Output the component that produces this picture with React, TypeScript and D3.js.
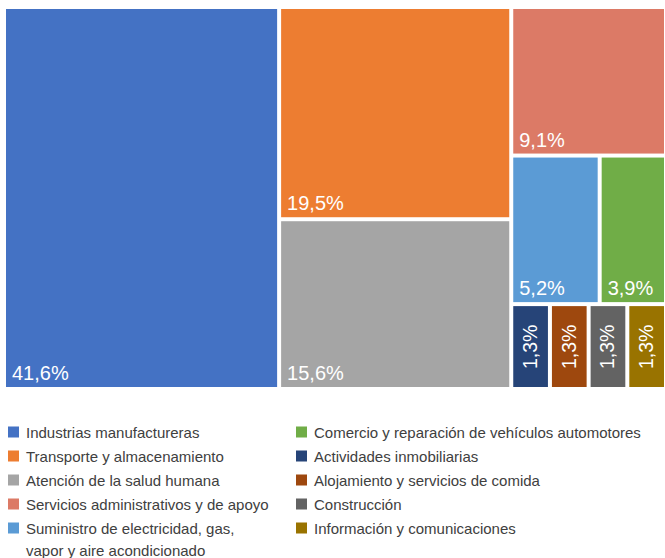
import React from "react";
import * as d3 from "d3";

const categories = [
  "Industrias manufactureras",
  "Transporte y almacenamiento",
  "Atención de la salud humana",
  "Servicios administrativos y de apoyo",
  "Suministro de electricidad, gas,\nvapor y aire acondicionado",
  "Comercio y reparación de vehículos automotores",
  "Actividades inmobiliarias",
  "Alojamiento y servicios de comida",
  "Construcción",
  "Información y comunicaciones",
];
const values = [41.6, 19.5, 15.6, 9.1, 5.2, 3.9, 1.3, 1.3, 1.3, 1.3];
const colors = [
  "#4472C4", "#ED7D31", "#A5A5A5", "#DC7A66", "#5B9BD5",
  "#70AD47", "#264478", "#9E480E", "#636363", "#997300",
];
// nesting of the tiles (indices into the arrays above)
const layout: any[] = [0, [1, 2], [3, [4, 5], [6, 7, 8, 9]]];

const W = 665, H = 558;
const TX = 6, TY = 9, TW = 658, TH = 378;
const FONT = "'Liberation Sans', Arial, sans-serif";

function build(node: any): any {
  if (typeof node === "number") return { idx: node, value: values[node] };
  return { children: node.map(build) };
}

const fmt = (v: number) => v.toFixed(1).replace(".", ",") + "%";

export default function App() {
  const root = d3
    .hierarchy(build(layout))
    .sum((d: any) => (d.children ? 0 : d.value));
  d3.treemap().tile(d3.treemapSliceDice).size([TW, TH]).paddingInner(4)(root as any);
  const leaves = root.leaves() as any[];

  return (
    <svg width={W} height={H} style={{ position: "absolute", left: 0, top: 0, background: "#fff" }}>
      <g transform={`translate(${TX},${TY})`}>
        {leaves.map((l) => {
          const i = l.data.idx;
          const w = l.x1 - l.x0;
          const vertical = w < 50;
          return (
            <g key={i}>
              <rect x={l.x0} y={l.y0} width={w} height={l.y1 - l.y0} fill={colors[i]} />
              {vertical ? (
                <text
                  transform={`translate(${(l.x0 + l.x1) / 2 + 6.5},${l.y1 - 18}) rotate(-90)`}
                  fill="#fff"
                  fontSize={19.5}
                  fontFamily={FONT}
                >
                  {fmt(values[i])}
                </text>
              ) : (
                <text x={l.x0 + 6} y={l.y1 - 7} fill="#fff" fontSize={20} fontFamily={FONT}>
                  {fmt(values[i])}
                </text>
              )}
            </g>
          );
        })}
      </g>
      <g fontFamily={FONT} fontSize={15} fill="#404040">
        {categories.map((c, i) => {
          const col = i < 5 ? 0 : 1;
          const row = i % 5;
          const x = col === 0 ? 8 : 296;
          const y = 432 + row * 24;
          const lines = c.split("\n");
          return (
            <g key={c}>
              <rect x={x} y={y - 5.5} width={11} height={11} fill={colors[i]} />
              <text x={x + 18} y={y + 5.5}>
                {lines.map((ln, k) => (
                  <tspan key={k} x={x + 18} dy={k === 0 ? 0 : 22}>
                    {ln}
                  </tspan>
                ))}
              </text>
            </g>
          );
        })}
      </g>
    </svg>
  );
}
